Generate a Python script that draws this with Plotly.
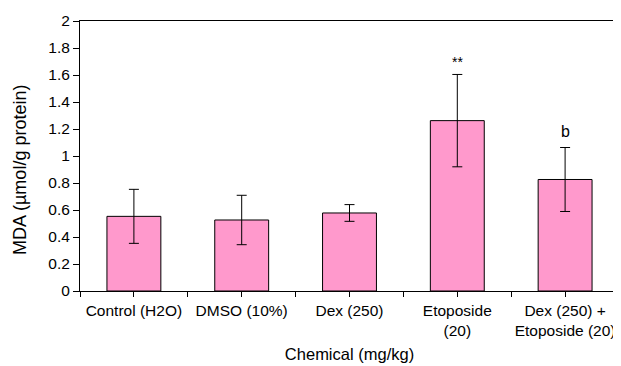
import plotly.graph_objects as go

categories = ["Control (H2O)", "DMSO (10%)", "Dex (250)", "Etoposide<br>(20)", "Dex (250) +<br>Etoposide (20)"]
mda = [0.553, 0.526, 0.578, 1.262, 0.826]
sd = [0.200, 0.183, 0.062, 0.342, 0.237]
marks = ["", "", "", "**", "b"]

x = list(range(len(categories)))

fig = go.Figure()
fig.add_trace(go.Bar(
    x=x, y=mda,
    marker=dict(color="#FF99CC", line=dict(color="black", width=1)),
    error_y=dict(type="data", array=sd, visible=True, color="black", thickness=1, width=5),
    width=0.5,
))
for xi, yi, ei, m in zip(x, mda, sd, marks):
    if m:
        fig.add_annotation(x=xi, y=yi + ei, text=m, showarrow=False, yanchor="bottom",
                           yshift=6 if m == "b" else 2,
                           font=dict(size=16 if m == "b" else 14, color="black"))

font = "Liberation Sans, Arial, sans-serif"
fig.add_annotation(xref="paper", yref="paper", x=0, y=0.5, xanchor="center", yanchor="middle",
                   xshift=-60, yshift=-14, textangle=-90, showarrow=False,
                   text="MDA (µmol/g protein)", font=dict(size=18, color="black"))
fig.update_layout(
    width=613, height=358,
    margin=dict(l=72, r=2, t=13, b=75),
    plot_bgcolor="white", paper_bgcolor="white",
    showlegend=False,
    font=dict(family=font, color="black", size=15.5),
    xaxis=dict(
        tickmode="array", tickvals=x, ticktext=categories,
        range=[-0.5, 4.5], showline=True, linecolor="black", mirror=True,
        ticks="outside", ticklen=5, tickcolor="black",
        minor=dict(tickmode="linear", tick0=-0.5, dtick=1, ticks="outside", ticklen=5, tickcolor="black"),
        showgrid=False, zeroline=False,
        title=dict(text="Chemical (mg/kg)", font=dict(size=16.5), standoff=10),
        tickfont=dict(size=15.5),
    ),
    yaxis=dict(
        range=[0, 2], dtick=0.2, tickformat="~g",
        showline=True, linecolor="black", mirror=True,
        ticks="outside", ticklen=6, tickcolor="black",
        showgrid=False, zeroline=False,
        tickfont=dict(size=15.5),
    ),
)
fig.write_html("out.html")
